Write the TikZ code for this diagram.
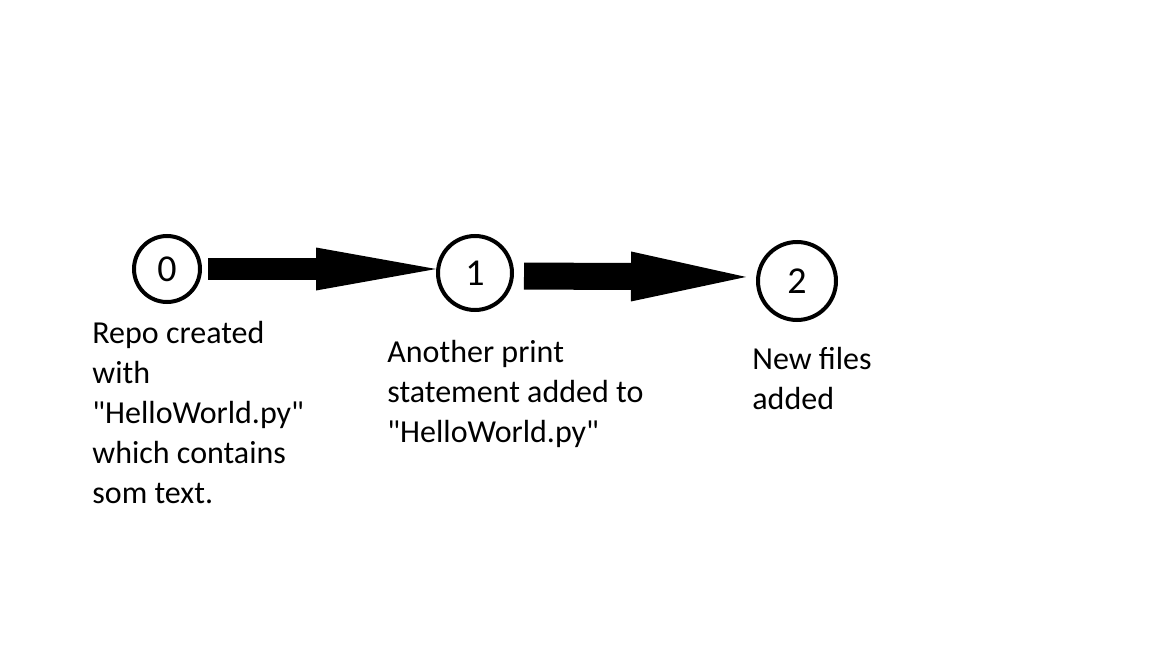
\documentclass[tikz,border=0pt]{standalone}
\usepackage{fontspec}
\setmainfont{Carlito}[Ligatures=TeXOff]
\usetikzlibrary{arrows.meta}

\tikzset{
    commit/.style={circle, draw=black, line width=2pt, minimum size=33pt, inner sep=0pt, font=\fontsize{19pt}{20pt}\selectfont},
    note/.style={anchor=base west, align=left, inner sep=0pt}
}

\begin{document}
\begin{tikzpicture}[x=0.5pt,y=-0.5pt,font=\fontsize{16pt}{20pt}\selectfont]
        \useasboundingbox[fill=white] (0,0) rectangle (1152,648);

        % commits
        \node[commit] (c0) at (167,269) {0};
        \node[commit, minimum size=37pt] (c1) at (475,273) {1};
        \node[commit, minimum size=39pt] (c2) at (797,281) {2};

        % arrows between commits
        \draw [line width=11pt, shorten <=3pt,
               -{Triangle[length=60pt, width=21.5pt, line width=0pt]}] (c0.east) -- ([yshift=2pt]c1.west);
        \draw [line width=13.5pt, shorten <=5pt, shorten >=5pt,
               -{Triangle[length=57.5pt, width=25pt, line width=0pt]}] ([yshift=-1.5pt]c1.east) -- ([yshift=2pt]c2.west);

        % descriptions (base = last line)
        \node[note] (n0) at (92,503) {Repo created\\with\\"HelloWorld.py"\\which contains\\som text.};
        \node[note] (n1) at (387,442) {Another print\\statement added to\\"HelloWorld.py"};
        \node[note] (n2) at (752,409) {New files\\added};

\end{tikzpicture}
\end{document}
